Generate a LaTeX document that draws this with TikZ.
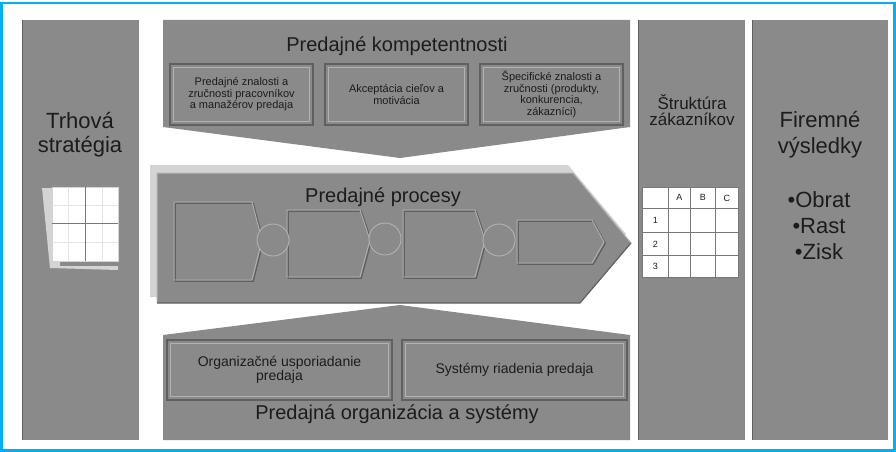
\documentclass[tikz,border=0pt]{standalone}
\usepackage{fontspec}
\setmainfont{Liberation Sans}
\usetikzlibrary{calc}
\definecolor{panel}{RGB}{138,138,138}
\definecolor{paneldark}{RGB}{96,96,96}
\definecolor{panellight}{RGB}{178,178,178}
\definecolor{shadowgray}{RGB}{212,212,212}
\definecolor{faintgray}{RGB}{228,228,228}
\definecolor{frameblue}{RGB}{0,176,240}
\definecolor{txt}{RGB}{28,28,28}
\definecolor{gridline}{RGB}{120,120,120}
\newcommand{\bevelshape}[1]{%
  \fill[panel] #1;
  \draw[paneldark, line width=1.4, shift={(1.2,1.2)}] #1;
  \draw[panellight, line width=0.9] #1;
}
\tikzset{
  colbox/.style={rectangle, fill=panel, draw=none, inner sep=0pt, anchor=north west},
  innerbox/.style={rectangle, fill=panel, draw=paneldark, line width=1.3pt, inner sep=0pt,
    align=center, text=txt, font=\fontsize{11}{11.5}\selectfont},
  lowbox/.style={innerbox, font=\fontsize{14}{14.5}\selectfont},
  title/.style={text=txt, align=center, inner sep=0pt},
  cell/.style={rectangle, fill=white, draw=gridline, line width=0.8pt, inner sep=0pt,
    anchor=north west, font=\fontsize{9}{9}\selectfont, text=txt},
  ring/.style={circle, fill=panel, draw=panellight, line width=0.9pt, inner sep=0pt, minimum size=32pt}
}
\begin{document}
\begin{tikzpicture}[x=1pt,y=-1pt]
\useasboundingbox (0,0) rectangle (896,452);
\fill[white] (0,0) rectangle (896,452);
\draw[frameblue, line width=2.5pt] (1.5,3) rectangle (894.5,450.5);

% columns
\node[colbox, minimum width=117pt, minimum height=420pt] (strat) at (22,20) {};
\node[colbox, minimum width=107pt, minimum height=420pt] (struct) at (638,20) {};
\node[colbox, minimum width=136pt, minimum height=420pt] (result) at (752,20) {};
\draw[paneldark, line width=1pt] (strat.north west) -- (strat.south west);
\draw[paneldark, line width=1pt] (struct.north west) -- (struct.south west);
\draw[paneldark, line width=1pt] (result.north west) -- (result.south west);

% top and bottom panels
\fill[panel] (163,20) -- (630,20) -- (630,127) -- (400,158) -- (163,127) -- cycle;
\fill[panel] (163,335) -- (400,305) -- (630,335) -- (630,440) -- (163,440) -- cycle;

% process arrow (shadow + body)
\fill[shadowgray] (150,165) -- (568,165) -- (626,234) -- (574,297) -- (150,297) -- cycle;
\fill[panel] (157,173) -- (573,173) -- (631,243) -- (580,303) -- (157,303) -- cycle;
\draw[panellight, line width=1pt] (157,303) -- (157,173) -- (573,173) -- (631,243);
\draw[paneldark, line width=1.2pt] (631,243) -- (580,303) -- (157,303);

% chevrons inside the arrow
\bevelshape{(174,202) -- (252,202) -- (262,240) -- (252,280) -- (174,280) -- cycle}
\bevelshape{(287,210) -- (360,210) -- (370,240) -- (360,277) -- (287,277) -- cycle}
\bevelshape{(403,210) -- (475,210) -- (485,240) -- (475,277) -- (403,277) -- cycle}
\bevelshape{(517,220) -- (592,220) -- (604,242) -- (592,263) -- (517,263) -- cycle}
\node[ring] (r1) at (273,240) {};
\node[ring] (r2) at (385,239) {};
\node[ring] (r3) at (499,240) {};

% texts of the panels
\node[title, font=\fontsize{20}{22}\selectfont] (komp) at (397,46) {Predajné kompetentnosti};
\node[title, font=\fontsize{20}{22}\selectfont] (proc) at (383,197) {Predajné procesy};
\node[title, font=\fontsize{20}{22}\selectfont] (org) at (397,414) {Predajná organizácia a systémy};

% top inner boxes
\node[innerbox, minimum width=143pt, minimum height=61pt] (k1) at (241.5,94.5)
  {Predajné znalosti a\\zručnosti pracovníkov\\a manažérov predaja};
\node[innerbox, minimum width=143pt, minimum height=61pt] (k2) at (396.5,94.5)
  {Akceptácia cieľov a\\motivácia};
\node[innerbox, minimum width=143pt, minimum height=61pt] (k3) at (551.5,94.5)
  {Špecifické znalosti a\\zručnosti (produkty,\\konkurencia,\\zákazníci)};
\foreach \b in {k1,k2,k3}{
  \draw[panellight, line width=0.7pt] ($(\b.north west)+(4,4)$) rectangle ($(\b.south east)+(-4,-4)$);
}

% bottom inner boxes
\node[lowbox, minimum width=225pt, minimum height=60pt] (o1) at (279.5,370)
  {Organizačné usporiadanie\\predaja};
\node[lowbox, minimum width=225pt, minimum height=60pt] (o2) at (514.5,370)
  {Systémy riadenia predaja};
\foreach \b in {o1,o2}{
  \draw[panellight, line width=0.7pt] ($(\b.north west)+(4,4)$) rectangle ($(\b.south east)+(-4,-4)$);
}

% strategy column
\node[title, font=\fontsize{22}{24}\selectfont] (stratT) at (80,135) {Trhová\\stratégia};
\fill[shadowgray] (42,188) -- (60,188) -- (60,266) -- (118,266) -- (118,270) -- (50,268) -- cycle;
\node[rectangle, fill=white, draw=shadowgray, line width=0.8pt, inner sep=0pt, anchor=north west,
  minimum width=66pt, minimum height=74pt] (sgrid) at (52,187) {};
\draw[faintgray, line width=0.5pt] (52,205) -- (118,205) (52,242) -- (118,242) (68,187) -- (68,261) (102,187) -- (102,261);
\draw[gridline, line width=0.8pt] (85,187) -- (85,261);
\draw[gridline, line width=0.8pt] (52,223) -- (118,223);

% customer structure column
\node[title, font=\fontsize{17}{16}\selectfont] (structT) at (692,110) {Štruktúra\\zákazníkov};
\node[cell, minimum width=26pt, minimum height=21pt] (c00) at (642,187) {};
\node[cell, minimum width=22pt, minimum height=21pt] (c01) at (668,187) {A};
\node[cell, minimum width=25pt, minimum height=21pt] (c02) at (690,187) {B};
\node[cell, minimum width=23pt, minimum height=21pt] (c03) at (715,187) {C};
\foreach \r/\y/\h in {1/208/24, 2/232/23, 3/255/22}{
  \node[cell, minimum width=26pt, minimum height=\h pt] (c\r0) at (642,\y) {\r};
  \node[cell, minimum width=22pt, minimum height=\h pt] (c\r1) at (668,\y) {};
  \node[cell, minimum width=25pt, minimum height=\h pt] (c\r2) at (690,\y) {};
  \node[cell, minimum width=23pt, minimum height=\h pt] (c\r3) at (715,\y) {};
}

% results column
\node[title, font=\fontsize{22}{26}\selectfont] (resT) at (820,135) {Firemné\\výsledky};
\node[title, font=\fontsize{22}{26}\selectfont] (resL) at (819,226) {•Obrat\\•Rast\\•Zisk};
\end{tikzpicture}
\end{document}
